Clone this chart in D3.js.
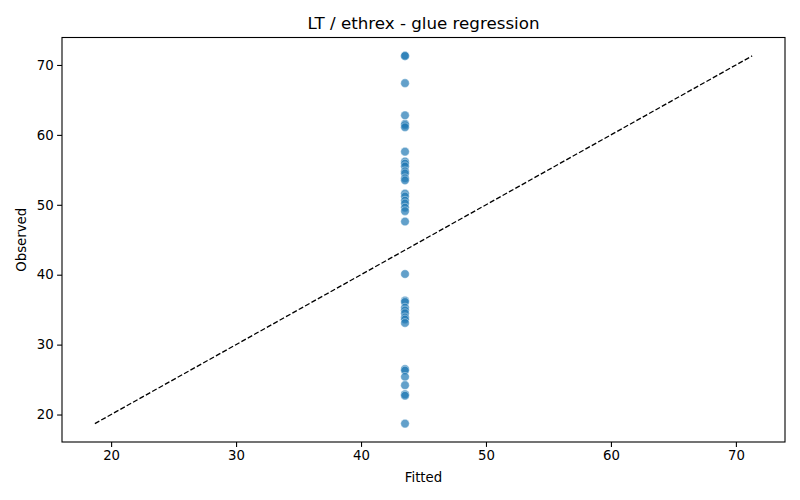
<!DOCTYPE html>
<html>
<head>
<meta charset="utf-8">
<script src="https://cdn.jsdelivr.net/npm/d3@7"></script>
<style>
body { margin: 0; background: #fff; }
text { font-family: "DejaVu Sans", sans-serif; }
</style>
</head>
<body>
<svg id="chart" width="800" height="500"></svg>
<script>
const title = "LT / ethrex - glue regression";
const xLabel = "Fitted";
const yLabel = "Observed";
const fittedValue = 43.52;
const observed = [71.3, 71.3, 67.4, 62.8, 61.6, 61.4, 61.1,
  57.6, 56.2, 55.9, 55.5, 54.8, 54.5, 53.8, 53.5,
  51.6, 51.2, 50.6, 50.2, 49.6, 49.1, 47.6,
  40.1, 36.3, 36.1, 35.3, 34.9, 34.5, 33.9, 33.6, 33.1,
  26.5, 26.3, 25.4, 24.2, 22.9, 22.7, 18.7];
const xTicks = [20, 30, 40, 50, 60, 70];
const yTicks = [20, 30, 40, 50, 60, 70];

const points = observed.map(v => ({ x: fittedValue, y: v }));
const lo = d3.min(observed), hi = d3.max(observed);
const pad = (hi - lo) * 0.05;

const svg = d3.select("#chart");
const m = { left: 62, right: 15, top: 37.5, bottom: 58 };
const W = 800, H = 500;
const x = d3.scaleLinear().domain([lo - pad, hi + pad]).range([m.left, W - m.right]);
const y = d3.scaleLinear().domain([lo - pad, hi + pad]).range([H - m.bottom, m.top]);

// diagonal line
svg.append("line")
  .attr("x1", x(lo)).attr("y1", y(lo))
  .attr("x2", x(hi)).attr("y2", y(hi))
  .attr("stroke", "#000").attr("stroke-width", 1.3)
  .attr("stroke-dasharray", "5.1,2.2");

svg.append("g").selectAll("circle").data(points).join("circle")
  .attr("cx", d => x(d.x)).attr("cy", d => y(d.y))
  .attr("r", 4.3)
  .attr("fill", "#1f77b4").attr("fill-opacity", 0.7)
  .attr("stroke", "#fff").attr("stroke-width", 0.6).attr("stroke-opacity", 0.7);

const xa = svg.append("g").attr("transform", `translate(0,${H - m.bottom})`)
  .call(d3.axisBottom(x).tickValues(xTicks).tickSize(4.9).tickPadding(3.5).tickFormat(d3.format("d")));
const ya = svg.append("g").attr("transform", `translate(${m.left},0)`)
  .call(d3.axisLeft(y).tickValues(yTicks).tickSize(4.9).tickPadding(3.5).tickFormat(d3.format("d")));
[xa, ya].forEach(a => {
  a.select(".domain").remove();
  a.selectAll("text").attr("font-size", "13.3px").attr("fill", "#000").attr("font-family", "DejaVu Sans");
  a.selectAll("line").attr("stroke", "#000").attr("stroke-width", 1.1);
});

svg.append("rect")
  .attr("x", m.left).attr("y", m.top)
  .attr("width", W - m.left - m.right).attr("height", H - m.top - m.bottom)
  .attr("fill", "none").attr("stroke", "#000").attr("stroke-width", 1.1);

svg.append("text").attr("x", (m.left + W - m.right) / 2).attr("y", 29)
  .attr("text-anchor", "middle").attr("font-size", "16.7px").text(title);
svg.append("text").attr("x", (m.left + W - m.right) / 2).attr("y", 482)
  .attr("text-anchor", "middle").attr("font-size", "13.3px").text(xLabel);
svg.append("text").attr("transform", `translate(26,${(m.top + H - m.bottom) / 2}) rotate(-90)`)
  .attr("text-anchor", "middle").attr("font-size", "13.3px").text(yLabel);
</script>
</body>
</html>
